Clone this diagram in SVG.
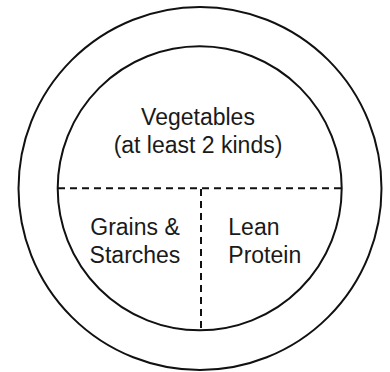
<svg xmlns="http://www.w3.org/2000/svg" width="390" height="372" viewBox="0 0 390 372">
  <style>
    .ring { fill: none; stroke: #111; stroke-width: 2; }
    .div { fill: none; stroke: #111; stroke-width: 2; stroke-dasharray: 7 5; }
    .lbl { font-family: "Liberation Sans", Arial, sans-serif; font-size: 23px; fill: #1a1a1a; }
  </style>
  <rect width="390" height="372" fill="#fff"/>
  <g id="plate">
    <circle class="ring" cx="200" cy="188.5" r="181.5"/>
  </g>
  <g id="inner">
    <circle class="ring" cx="199.7" cy="188.3" r="142"/>
  </g>
  <g id="connectors">
    <line class="div" x1="58" y1="188.3" x2="341.5" y2="188.3"/>
    <line class="div" x1="201" y1="189" x2="201" y2="330"/>
  </g>
  <g id="vegetables">
    <text class="lbl" x="198" y="125" text-anchor="middle">Vegetables</text>
    <text class="lbl" x="198" y="152.5" text-anchor="middle">(at least 2 kinds)</text>
  </g>
  <g id="grains">
    <text class="lbl" x="135" y="235" text-anchor="middle">Grains &amp;</text>
    <text class="lbl" x="135" y="263" text-anchor="middle">Starches</text>
  </g>
  <g id="protein">
    <text class="lbl" x="228.3" y="235">Lean</text>
    <text class="lbl" x="228.3" y="263">Protein</text>
  </g>
</svg>
